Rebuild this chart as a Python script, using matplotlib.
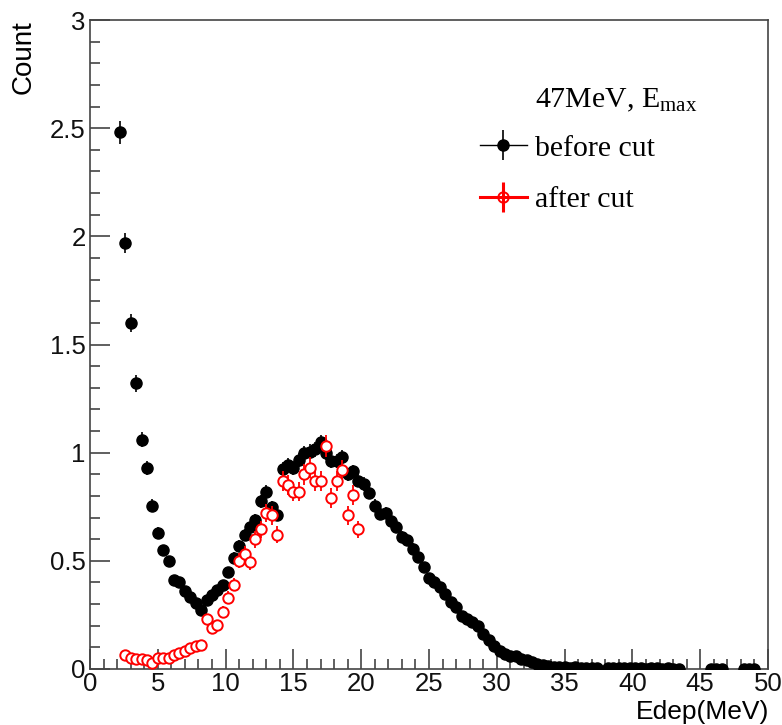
import numpy as np
import matplotlib
matplotlib.use("Agg")
import matplotlib.pyplot as plt
from matplotlib.lines import Line2D
from matplotlib.legend_handler import HandlerTuple
from matplotlib.ticker import MultipleLocator

plt.rcParams['font.family'] = ['Liberation Sans', 'DejaVu Sans']
plt.rcParams['mathtext.fontset'] = 'custom'
plt.rcParams['mathtext.rm'] = 'Liberation Serif'
plt.rcParams['mathtext.default'] = 'rm'

# Data: 0.4 MeV bins
bin_width = 0.4
before_start = 2.2
before_cut = [
    2.48, 1.97, 1.60, 1.32, 1.06, 0.93, 0.755, 0.63, 0.55, 0.50,
    0.41, 0.40, 0.36, 0.335, 0.305, 0.275, 0.32, 0.34, 0.365, 0.39,
    0.45, 0.515, 0.57, 0.62, 0.655, 0.69, 0.775, 0.82, 0.75, 0.71,
    0.925, 0.945, 0.93, 0.965, 1.0, 1.005, 1.015, 1.05, 1.0, 0.96,
    0.96, 0.98, 0.90, 0.913, 0.87, 0.855, 0.815, 0.755, 0.716, 0.723,
    0.685, 0.655, 0.61, 0.594, 0.556, 0.518, 0.473, 0.42, 0.404, 0.378,
    0.345, 0.31, 0.285, 0.247, 0.23, 0.215, 0.20, 0.16, 0.135, 0.105,
    0.085, 0.07, 0.062, 0.06, 0.047, 0.04, 0.032, 0.022, 0.017, 0.012,
    0.010, 0.008, 0.008, 0.006, 0.007, 0.005, 0.006, 0.005, 0.004, np.nan,
    0.004, 0.005, 0.003, 0.004, 0.003, 0.004, 0.003, 0.002, 0.003, 0.003,
    0.002, 0.003, 0.002, 0.002, np.nan, np.nan, np.nan, np.nan, np.nan, 0.002,
    0.002, 0.002, np.nan, np.nan, np.nan, 0.002, 0.002, 0.002, np.nan, np.nan,
]
after_start = 2.6
after_cut = [
    0.065, 0.05, 0.045, 0.045, 0.04, 0.03, 0.05, 0.05, 0.05, 0.065,
    0.075, 0.085, 0.095, 0.105, 0.11, 0.23, 0.19, 0.205, 0.265, 0.33,
    0.39, 0.50, 0.53, 0.495, 0.60, 0.645, 0.72, 0.71, 0.62, 0.87,
    0.85, 0.82, 0.82, 0.90, 0.93, 0.87, 0.87, 1.03, 0.79, 0.87,
    0.92, 0.71, 0.805, 0.645,
]

before = np.array(before_cut)
after = np.array(after_cut)
x_before = before_start + bin_width * np.arange(len(before))
x_after = after_start + bin_width * np.arange(len(after))
err_before = 0.033 * np.sqrt(np.nan_to_num(before))
err_after = 0.05 * np.sqrt(after)

fig = plt.figure(figsize=(7.82, 7.25), dpi=100)
ax = fig.add_axes([90 / 782, 1 - 669 / 725, 678 / 782, 649 / 725])

ax.errorbar(x_before, before, yerr=err_before, fmt='o', color='black',
            ms=8, elinewidth=1.2, capsize=0, zorder=3)
ax.errorbar(x_after, after, yerr=err_after, fmt='o', color='red',
            mfc='white', mec='red', mew=1.4, ms=7.5, elinewidth=1.3,
            capsize=0, zorder=4)

ax.set_xlim(0, 50)
ax.set_ylim(0, 3)
ax.xaxis.set_major_locator(MultipleLocator(5))
ax.xaxis.set_minor_locator(MultipleLocator(1))
ax.yaxis.set_major_locator(MultipleLocator(0.5))
ax.yaxis.set_minor_locator(MultipleLocator(0.1))
ax.set_xticklabels([f"{v:g}" for v in ax.get_xticks()])
ax.set_yticklabels([f"{v:g}" for v in ax.get_yticks()])
ax.tick_params(which='both', direction='in', top=False, right=False,
               labelsize=18.5, labelcolor='#111111', color='#444444', width=1.2)
ax.tick_params(axis='x', which='major', length=14.4, pad=2)
ax.tick_params(axis='y', which='major', length=14.4, pad=3)
ax.tick_params(which='minor', length=7.2)
for s in ax.spines.values():
    s.set_color('#444444')
    s.set_linewidth(1.2)

fig.text(24 / 782, 1 - 20 / 725, "Count", rotation=90, ha='center', va='top', fontsize=20)
fig.text(769 / 782, 1 - 712 / 725, "Edep(MeV)", ha='right', va='center', fontsize=19)

# legend
ax.text(0.656, 0.876, "47MeV, E$_{\\mathrm{max}}$", transform=ax.transAxes,
        family='Liberation Serif', fontsize=21.5, ha='left', va='center')
h_before = (Line2D([0, 1], [0, 0], color='black', lw=1),
            Line2D([0], [0], marker='|', ms=22, mew=1.2, color='black', ls='none'),
            Line2D([0], [0], marker='o', ms=8, color='black', ls='none'))
h_after = (Line2D([0, 1], [0, 0], color='red', lw=2.2),
           Line2D([0], [0], marker='|', ms=22, mew=2.2, color='red', ls='none'),
           Line2D([0], [0], marker='o', ms=7.5, mfc='none', mec='red', mew=1.4, ls='none'))
ax.legend([h_before, h_after], ["before cut", "after cut"],
          handler_map={tuple: HandlerTuple(ndivide=1, pad=0)},
          loc='upper left', bbox_to_anchor=(0.575, 0.823), frameon=False,
          borderpad=0, borderaxespad=0, handlelength=1.57, handletextpad=0.27,
          labelspacing=0.82, prop={'family': 'Liberation Serif', 'size': 21.5})

fig.savefig("out.png", dpi=100)
